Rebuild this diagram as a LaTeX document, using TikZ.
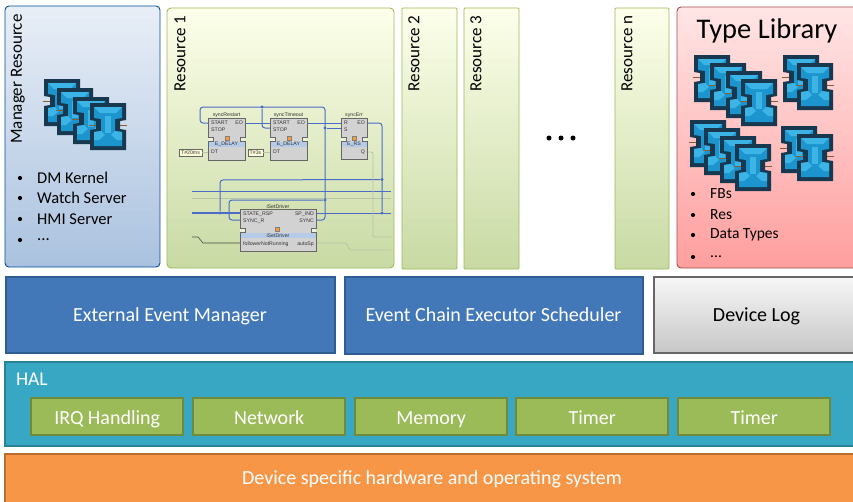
\documentclass[tikz,border=0pt]{standalone}
\usepackage{fontspec}
\setmainfont{Carlito}
\setsansfont{Liberation Sans}
\usepackage{tikz}
\usetikzlibrary{calc}
\usetikzlibrary{shapes.misc}
\definecolor{halgreen}{HTML}{9BBB59}
\definecolor{halgreenline}{HTML}{6F8A3A}
\definecolor{wireblue}{HTML}{4A6CC8}
\definecolor{wiregray}{HTML}{B4C6A6}
\definecolor{fbdark}{HTML}{17384F}
\definecolor{fbblue}{HTML}{1C95CE}
\definecolor{fblight}{HTML}{3DB4E6}
\definecolor{blockgray}{HTML}{D2D2D2}
\definecolor{blockhead}{HTML}{B5CBE8}
\definecolor{layerblue}{HTML}{4277B8}
\definecolor{layerline}{HTML}{2F5D93}
\definecolor{halblue}{HTML}{38A7C4}
\definecolor{halline}{HTML}{2A8199}
\definecolor{hworange}{HTML}{F79646}
\definecolor{hwline}{HTML}{B86E30}
\tikzstyle{resbox} = [draw,line width=0.9pt,rounded corners=4pt]
\tikzstyle{greenres} = [resbox,draw=halgreen,top color=green!10!yellow!8,bottom color=halgreen!55]
\tikzstyle{layerbox} = [draw=layerline,fill=layerblue,line width=2pt,text=white,anchor=north west,text height=16pt,text depth=3pt,font=\fontsize{20}{22}\selectfont]
\tikzstyle{halbox} = [draw=halgreenline,line width=2.4pt,fill=halgreen,text=white,anchor=north west,minimum width=152pt,minimum height=37pt,text height=18pt,text depth=3pt,font=\fontsize{20}{22}\selectfont]
\tikzstyle{restitle} = [rotate=90,anchor=east,font=\fontsize{17}{20}\selectfont]
\tikzstyle{itemtext} = [anchor=west,inner sep=0pt,font=\fontsize{16.5}{20}\selectfont]
\tikzstyle{typetext} = [itemtext,font=\fontsize{15.5}{18}\selectfont]
\tikzstyle{itemdot} = [circle,fill=black,inner sep=0pt,minimum size=4.2pt]
\tikzstyle{bigdot} = [circle,fill=black,inner sep=0pt,minimum size=5pt]
\tikzstyle{pinlabel} = [inner sep=0pt,font=\fontsize{5.2}{6}\selectfont\sffamily,text=black!80]
\tikzstyle{valuebox} = [draw=black!60,fill=yellow!15,pinlabel]
\tikzstyle{wire} = [line width=1pt,draw=wireblue,rounded corners=3pt]
\tikzstyle{grayline} = [line width=0.8pt,draw=wiregray,rounded corners=2pt]
\tikzstyle{joint} = [circle,fill=wireblue,inner sep=0pt,minimum size=3.4pt]
\tikzstyle{eventmark} = [draw=black!50,fill=orange!80,inner sep=0pt,minimum size=4pt]
\newcommand{\fbicon}[2]{%
  \begin{scope}[shift={(#1,#2)}]
    \draw[black!45!orange!60!gray,line width=0.7pt] (-1,22) -- (37,22);
    \fill[fbdark] (0,0) -- (36,0) -- (36,17) -- (30,18) -- (30,26) -- (36,27) -- (36,47) -- (0,47) -- (0,27) -- (6,26) -- (6,18) -- (0,17) -- cycle;
    \fill[fbblue] (4,4) -- (32,4) -- (32,15) -- (25,16) -- (25,28) -- (32,29) -- (32,43) -- (4,43) -- (4,29) -- (11,28) -- (11,16) -- (4,15) -- cycle;
    \fill[fblight] (4,4) -- (32,4) -- (26,10) -- (10,10) -- cycle;
    \fill[fblight] (4,29) -- (11,28) -- (15,32) -- (9,37) -- (4,37) -- cycle;
    \fill[fblight] (32,29) -- (25,28) -- (21,32) -- (27,37) -- (32,37) -- cycle;
    \fill[fblight] (15,13) -- (21,13) -- (21,30) -- (15,30) -- cycle;
  \end{scope}}
\newcommand{\fbblock}[7]{%
  \fill[blockgray] (#2,#3) rectangle (#2+#4,#3+#5);
  \fill[blockhead] (#2,#6+1) rectangle (#2+#4,#6+6);
  \fill[white!40!halgreen!35] (#2-0.4,#6-4) rectangle (#2+5,#6);
  \fill[white!40!halgreen!35] (#2+#4-5,#6-4) rectangle (#2+#4+0.4,#6);
  \draw[black!60,line width=0.7pt] (#2,#3) -- (#2+#4,#3) -- (#2+#4,#6-4) -- (#2+#4-5,#6-4) -- (#2+#4-5,#6) -- (#2+#4,#6) -- (#2+#4,#3+#5) -- (#2,#3+#5) -- (#2,#6) -- (#2+5,#6) -- (#2+5,#6-4) -- (#2,#6-4) -- cycle;
  \node[pinlabel] (#1) at (#2+#4/2,#3-2.5) {#7};}
\begin{document}
\begin{tikzpicture}[x=1pt,y=-1pt]
\useasboundingbox (0,0) rectangle (853,501);
\fill[white] (0,0) rectangle (853,501);
\draw[resbox,draw=blue!50!cyan!60!black,top color=layerblue!12,bottom color=layerblue!45] (5,6) rectangle (160,267);
\draw[greenres] (167,8) rectangle (394,268);
\draw[greenres,rounded corners=1pt] (402,8) rectangle (457,269);
\draw[greenres,rounded corners=1pt] (464,8) rectangle (519,269);
\draw[greenres,rounded corners=1pt] (615,8) rectangle (669,269);
\draw[resbox,draw=red!50!black!70,top color=red!10,bottom color=red!38] (677,7) rectangle (860,268);
\node[restitle] (manager) at (18,11) {Manager Resource};
\node[restitle] (res1) at (180,12) {Resource 1};
\node[restitle] (res2) at (414,12) {Resource 2};
\node[restitle] (res3) at (476,12) {Resource 3};
\node[restitle] (resn) at (627,12) {Resource n};
\node[bigdot] (d1) at (549,138) {};
\node[bigdot] (d2) at (561,138) {};
\node[bigdot] (d3) at (573,138) {};
\fbicon{44}{79}
\fbicon{57}{88}
\fbicon{73}{97}
\fbicon{90}{103}
\node[itemdot] (m1) at (20,178) {};
\node[itemdot] (m2) at (20,198) {};
\node[itemdot] (m3) at (20,219) {};
\node[itemdot] (m4) at (20,240) {};
\node[itemtext] (mt1) at (37,178) {DM Kernel};
\node[itemtext] (mt2) at (37,198) {Watch Server};
\node[itemtext] (mt3) at (37,219) {HMI Server};
\node[itemtext] (mt4) at (37,240) {...};
\node[font=\fontsize{28.5}{30}\selectfont] (typelib) at (767,31) {Type Library};
\fbicon{694}{55}
\fbicon{710}{63}
\fbicon{726}{71}
\fbicon{741}{79}
\fbicon{783}{55}
\fbicon{797}{63}
\fbicon{690}{120}
\fbicon{704}{128}
\fbicon{720}{136}
\fbicon{735}{144}
\fbicon{781}{126}
\fbicon{797}{134}
\node[itemdot] (t1) at (693,194) {};
\node[itemdot] (t2) at (693,215) {};
\node[itemdot] (t3) at (693,235) {};
\node[itemdot] (t4) at (693,257) {};
\node[typetext] (tt1) at (710,194) {FBs};
\node[typetext] (tt2) at (710,215) {Res};
\node[typetext] (tt3) at (710,235) {Data Types};
\node[typetext] (tt4) at (710,257) {...};
\coordinate (a1) at (192,191.5);
\coordinate (am) at (300,191.5);
\coordinate (a2) at (391,191.5);
\coordinate (a3) at (192,198.5);
\coordinate (an) at (300,198.5);
\coordinate (a4) at (391,198.5);
\draw[wire] (a1) -- (am) -- (a2);
\draw[grayline] (a3) -- (an) -- (a4);
\coordinate (bus) at (192,213);
\coordinate (busr) at (391,213);
\coordinate (q) at (367,152);
\coordinate (qr) at (391,237);
\coordinate (sp) at (316,243);
\coordinate (spr) at (391,250);
\coordinate (fn) at (192,237);
\coordinate (fi) at (240,243);
\node[joint] (j1) at (220,213) {};
\node[joint] (j2) at (262,107) {};
\node[joint] (j3) at (325,128) {};
\node[joint] (j4) at (325,200) {};
\node[joint] (j5) at (382,179.5) {};
\node[joint] (j6) at (382,213) {};
\draw[wire,line width=1.6pt] (bus) -- (240,213);
\draw[wire] (208,123) -- (200,123) -- (200,107) -- (325,107) -- (325,220) -- (316,220);
\draw[wire] (j2) -- (262,128) -- (270,128);
\draw[wire] (245,123) -- (270,123);
\draw[wire] (307,123) -- (341,123);
\draw[wire] (j3) -- (341,128);
\draw[wire] (367,123) -- (382,123) -- (j6);
\draw[wire] (j1) -- (220,180) -- (j5);
\draw[wire] (240,220) -- (229,220) -- (229,200) -- (j4);
\draw[wire] (316,213) -- (busr);
\draw[grayline] (q) -- (373,152) -- (373,237) -- (qr);
\draw[grayline] (sp) -- (347,243) -- (349,250) -- (spr);
\draw[black!70,line width=0.6pt] (fn) -- (198,237) -- (203,243) -- (fi);
\fbblock{syncrestart}{208}{118}{37}{42}{141}{syncRestart}
\fbblock{synctimeout}{270}{118}{37}{42}{141}{syncTimeout}
\fbblock{syncerr}{341}{118}{26}{41}{141}{syncErr}
\fbblock{isetdriver}{240}{209}{76}{42}{232}{iSetDriver}
\node[eventmark] (e1) at (227,138) {};
\node[eventmark] (e2) at (289,138) {};
\node[eventmark] (e3) at (354,138) {};
\node[eventmark] (e4) at (277,229) {};
\node[pinlabel,anchor=west] (p1) at (211,123) {START};
\node[pinlabel,anchor=west] (p2) at (211,130) {STOP};
\node[pinlabel,anchor=east] (p3) at (243,123) {EO};
\node[pinlabel] (p4) at (226.5,144.5) {E\_DELAY};
\node[pinlabel,anchor=west] (p5) at (211,152) {DT};
\node[pinlabel,anchor=west] (p6) at (273,123) {START};
\node[pinlabel,anchor=west] (p7) at (273,130) {STOP};
\node[pinlabel,anchor=east] (p8) at (305,123) {EO};
\node[pinlabel] (p9) at (288.5,144.5) {E\_DELAY};
\node[pinlabel,anchor=west] (p10) at (273,152) {DT};
\node[pinlabel,anchor=west] (p11) at (344,123) {R};
\node[pinlabel,anchor=west] (p12) at (344,130) {S};
\node[pinlabel,anchor=east] (p13) at (365,123) {EO};
\node[pinlabel] (p14) at (354,144.5) {E\_RS};
\node[pinlabel,anchor=east] (p15) at (365,152) {Q};
\node[pinlabel,anchor=west] (p16) at (243,214) {STATE\_RSP};
\node[pinlabel,anchor=west] (p17) at (243,221) {SYNC\_R};
\node[pinlabel,anchor=east] (p18) at (314,214) {SP\_IND};
\node[pinlabel,anchor=east] (p19) at (314,221) {SYNC};
\node[pinlabel] (p20) at (278,236) {iSetDriver};
\node[pinlabel,anchor=west] (p21) at (243,244) {followerNotRunning};
\node[pinlabel,anchor=east] (p22) at (314,244) {autoSp};
\node[valuebox,minimum width=23pt,minimum height=6.5pt] (v1) at (190.5,152.5) {T\#20ms};
\node[valuebox,minimum width=15pt,minimum height=6.5pt] (v2) at (255.5,152.5) {T\#3s};
\draw[grayline] (v1) -- (208,152.5);
\draw[grayline] (v2) -- (270,152.5);
\node[layerbox,minimum width=329pt,minimum height=76pt] (eem) at (4.5,275.5) {External Event Manager};
\node[layerbox,minimum width=298pt,minimum height=77pt] (eces) at (343.5,275.5) {Event Chain Executor Scheduler};
\node[layerbox,text=black,draw=black!60,top color=black!3,bottom color=black!22,minimum width=206pt,minimum height=76pt] (devlog) at (652.5,275.5) {Device Log};
\draw[line width=2pt,draw=halline,fill=halblue] (5,362) rectangle (860,446);
\node[anchor=west,text=white,font=\fontsize{19.5}{22}\selectfont] (hal) at (12.5,379) {HAL};
\node[halbox] (irq) at (30,397) {IRQ Handling};
\node[halbox] (net) at (192,397) {Network};
\node[halbox] (mem) at (354,397) {Memory};
\node[halbox] (tim1) at (515,397) {Timer};
\node[halbox] (tim2) at (677,397) {Timer};
\draw[line width=2pt,draw=hwline,fill=hworange] (5,454) rectangle (860,510);
\node[text=white,font=\fontsize{20}{22}\selectfont] (dev) at (432,479) {Device specific hardware and operating system};
\end{tikzpicture}
\end{document}
